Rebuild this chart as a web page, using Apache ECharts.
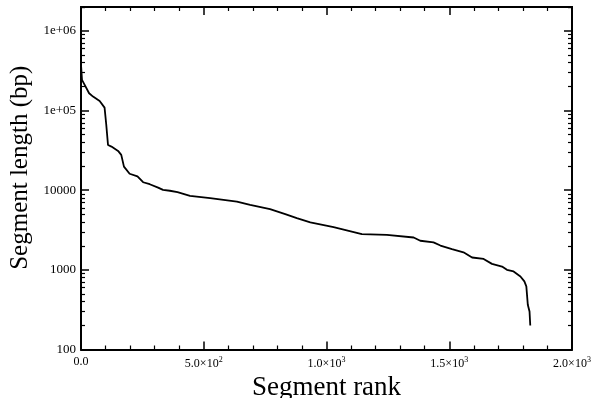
<!DOCTYPE html>
<html>
<head>
<meta charset="utf-8">
<script src="https://cdn.jsdelivr.net/npm/echarts@6/dist/echarts.min.js"></script>
<style>html,body{margin:0;padding:0;background:#fff}#c{width:600px;height:398px}</style>
</head>
<body>
<div id="c"></div>
<script>
const ranks = [0,4,15,33,49,76,96,103,110,124,151,164,175,198,230,253,280,314,334,362,393,444,526,635,689,770,832,879,934,1029,1144,1246,1355,1382,1436,1464,1511,1558,1593,1640,1674,1715,1735,1762,1790,1806,1814,1820,1827,1830];
const lengths = [380000,243000,210000,165000,150000,132000,109000,66000,37000,35300,31200,27800,19800,16100,14900,12600,11900,10800,10100,9850,9470,8510,7960,7210,6560,5790,5010,4470,3940,3440,2810,2750,2550,2320,2210,2020,1820,1660,1430,1370,1190,1100,1000,955,826,716,620,365,300,200];
const yMajorTicks = [100,1000,10000,100000,1000000];
const yMinorTicks = [];
[100,1000,10000,100000,1000000].forEach(d => { for (let k = 2; k <= 9; k++) { if (d*k <= 2000000) yMinorTicks.push(d*k); } });
yMinorTicks.push(2000000);
const xTickLabels = {0:'0.0',500:'{a|5.0×10}{s|2}',1000:'{a|1.0×10}{s|3}',1500:'{a|1.5×10}{s|3}',2000:'{a|2.0×10}{s|3}'};
const yTickLabels = {100:'100',1000:'1000',10000:'10000',100000:'1e+05',1000000:'1e+06'};

const FONT = 'Liberation Serif';
const lineS = {show:true, lineStyle:{color:'#000', width:2}};

function xAx(pos, labels){
  return {
    type:'value', min:0, max:2000, interval:500, position:pos,
    axisLine: lineS,
    axisTick:{show:true, inside:true, length:8, lineStyle:{color:'#000', width:1.5}},
    minorTick:{show:true, splitNumber:5, length:4, lineStyle:{color:'#000', width:1.2}},
    splitLine:{show:false},
    name: labels ? 'Segment rank' : '',
    nameLocation:'middle', nameGap:21,
    nameTextStyle:{fontFamily:FONT, fontSize:27, color:'#000'},
    axisLabel:{show:labels, margin:6, fontFamily:FONT, color:'#000',
      formatter: v => xTickLabels[v] !== undefined ? xTickLabels[v] : '',
      rich:{a:{fontFamily:FONT, fontSize:12, color:'#000', lineHeight:16}, s:{fontFamily:FONT, fontSize:8, color:'#000', lineHeight:8, verticalAlign:'top'}}
    }
  };
}
function yAx(pos, major, labels){
  return {
    type:'log', min:100, max:2000000, position:pos,
    axisLine: lineS,
    axisTick:{show:true, inside:true, length: major?8:4, customValues: major?yMajorTicks:yMinorTicks, lineStyle:{color:'#000', width: major?1.5:1.2}},
    splitLine:{show:false},
    name: labels ? 'Segment length (bp)' : '',
    nameLocation:'middle', nameGap:47,
    nameTextStyle:{fontFamily:FONT, fontSize:25, color:'#000', padding:[0,0,0,21]},
    axisLabel:{show:labels, margin:5, fontFamily:FONT, fontSize:13, color:'#000', customValues: yMajorTicks,
      formatter: v => yTickLabels[v] !== undefined ? yTickLabels[v] : ''}
  };
}

const chart = echarts.init(document.getElementById('c'), null, {renderer:'canvas'});
chart.setOption({
  animation:false,
  backgroundColor:'#fff',
  grid:{left:81, right:28, top:7, bottom:48.5, containLabel:false, outerBoundsMode:'none'},
  xAxis:[xAx('bottom', true), xAx('top', false)],
  yAxis:[yAx('left', true, true), yAx('left', false, false), yAx('right', true, false), yAx('right', false, false)],
  series:[{
    type:'line', xAxisIndex:0, yAxisIndex:0,
    data: ranks.map((r,i)=>[r, lengths[i]]),
    showSymbol:false, smooth:false,
    lineStyle:{color:'#000', width:1.8}
  }]
});
</script>
</body>
</html>
